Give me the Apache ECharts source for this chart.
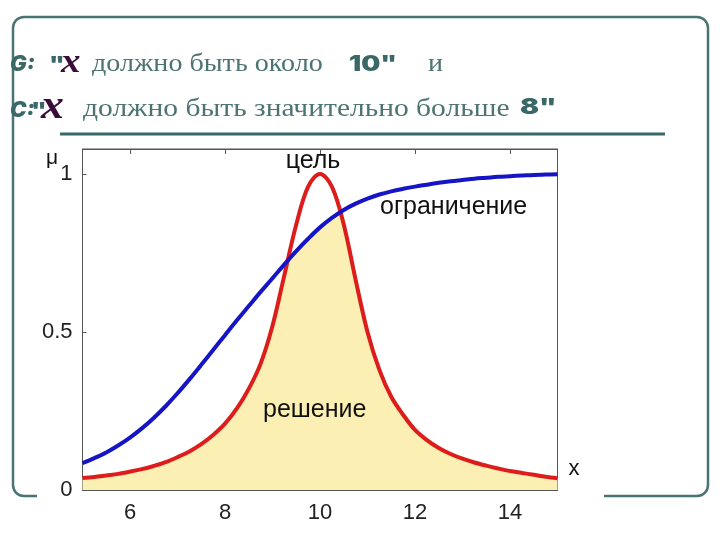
<!DOCTYPE html>
<html>
<head>
<meta charset="utf-8">
<script src="https://cdn.jsdelivr.net/npm/echarts@6/dist/echarts.min.js"></script>
<style>
html,body{margin:0;padding:0;background:#ffffff;}
#main{width:720px;height:540px;}
</style>
</head>
<body>
<div id="main"></div>
<script>
// ---- data ----
const xValues = [5,5.25,5.5,5.75,6,6.25,6.5,6.75,7,7.25,7.5,7.75,8,8.25,8.5,8.75,9,9.25,9.5,9.75,10,
                 10.25,10.5,10.75,11,11.25,11.5,11.75,12,12.25,12.5,12.75,13,13.25,13.5,13.75,14,14.25,14.5,14.75,15];
const goalValues = [0.038,0.041,0.046,0.051,0.058,0.066,0.076,0.088,0.104,0.122,0.145,0.174,0.21,0.258,0.32,0.40,0.52,0.68,0.84,0.96,1.0,
                    0.96,0.84,0.665,0.50,0.38,0.295,0.238,0.19,0.158,0.133,0.114,0.099,0.087,0.077,0.068,0.060,0.054,0.048,0.042,0.037];
const constraintValues = [0.085,0.101,0.119,0.141,0.166,0.195,0.228,0.265,0.306,0.350,0.396,0.443,0.490,0.537,0.582,0.627,0.670,0.714,0.756,0.795,0.831,
                          0.861,0.886,0.906,0.922,0.935,0.945,0.953,0.960,0.966,0.972,0.977,0.981,0.985,0.988,0.991,0.993,0.995,0.997,0.998,0.999];
const xTickLabels = [6,8,10,12,14];
const yTickLabels = [0,0.5,1];
const xMin = 5, xMax = 15, yMin = 0, yMax = 1.079;

// solution = min(goal, constraint), with crossing points inserted
function buildSolution(){
  const out = [];
  for (let i = 0; i < xValues.length; i++){
    out.push([xValues[i], Math.min(goalValues[i], constraintValues[i])]);
    if (i < xValues.length - 1){
      const d0 = goalValues[i] - constraintValues[i];
      const d1 = goalValues[i+1] - constraintValues[i+1];
      if (d0 * d1 < 0){
        const t = d0 / (d0 - d1);
        out.push([xValues[i] + t*(xValues[i+1]-xValues[i]), goalValues[i] + t*(goalValues[i+1]-goalValues[i])]);
      }
    }
  }
  return out;
}
const pair = (xs, ys) => xs.map((x,i)=>[x, ys[i]]);

const teal = '#3a6868';
const serifText = '#4d7373';
const sans = 'Liberation Sans, Arial, sans-serif';
const heavy = 'Inter, Lato, DejaVu Sans, sans-serif';
const serif = 'Liberation Serif, Times New Roman, serif';

const chart = echarts.init(document.getElementById('main'), null, {renderer:'canvas'});

function txt(x, y, text, font, opts, sx){
  return {
    type:'text', x:x, y:y, z:5, scaleX: sx || 1,
    style:Object.assign({text:text, font:font, fill:'#111', verticalAlign:'middle', align:'left'}, opts||{})
  };
}

const option = {
  backgroundColor:'#ffffff',
  animation:false,
  grid:{left:82.5, right:162.5, top:149, bottom:50, show:true, borderColor:'#555', borderWidth:1, backgroundColor:'#ffffff', containLabel:false},
  xAxis:[
    {type:'value', min:xMin, max:xMax, position:'bottom',
     axisLine:{show:true, onZero:false, lineStyle:{color:'#555', width:1}},
     axisTick:{show:true, inside:true, length:5, customValues:xTickLabels, lineStyle:{color:'#555'}},
     axisLabel:{show:true, customValues:xTickLabels, fontSize:22, color:'#222', fontFamily:sans, margin:12},
     splitLine:{show:false}},
    {type:'value', min:xMin, max:xMax, position:'top',
     axisLine:{show:true, onZero:false, lineStyle:{color:'#555', width:1}},
     axisTick:{show:true, inside:true, length:5, customValues:xTickLabels, lineStyle:{color:'#555'}},
     axisLabel:{show:false},
     splitLine:{show:false}}
  ],
  yAxis:[
    {type:'value', min:yMin, max:yMax, position:'left',
     axisLine:{show:true, onZero:false, lineStyle:{color:'#555', width:1}},
     axisTick:{show:true, inside:true, length:4, customValues:yTickLabels, lineStyle:{color:'#555'}},
     axisLabel:{show:true, customValues:yTickLabels, fontSize:22, color:'#222', fontFamily:sans, margin:10},
     splitLine:{show:false}},
    {type:'value', min:yMin, max:yMax, position:'right',
     axisLine:{show:true, onZero:false, lineStyle:{color:'#555', width:1}},
     axisTick:{show:false}, axisLabel:{show:false}, splitLine:{show:false}}
  ],
  series:[
    {name:'решение', type:'line', data:buildSolution(), smooth:0.35, showSymbol:false, z:2,
     lineStyle:{width:0}, areaStyle:{color:'#fcefb3', opacity:1}, silent:true},
    {name:'цель', type:'line', data:pair(xValues, goalValues), smooth:0.35, showSymbol:false, z:3,
     lineStyle:{color:'#dc1d1b', width:4}},
    {name:'ограничение', type:'line', data:pair(xValues, constraintValues), smooth:0.35, showSymbol:false, z:4,
     lineStyle:{color:'#1515c6', width:4}}
  ],
  graphic:{elements:[
    {type:'rect', z:-20, shape:{x:13, y:17, width:695, height:479, r:11}, style:{fill:'#ffffff', stroke:'#4a7373', lineWidth:2.5}},
    {type:'rect', z:-10, shape:{x:37, y:140, width:567, height:400}, style:{fill:'#ffffff'}},
    {type:'line', z:5, shape:{x1:60, y1:134, x2:665, y2:134}, style:{stroke:teal, lineWidth:3}},
    // title line 1
    txt(10, 65, 'G:', 'italic 900 21px ' + heavy, {fill:teal}, 1.05),
    txt(49, 66, '"', '900 21px ' + heavy, {fill:teal}, 1.2),
    txt(61, 63, 'x', 'italic bold 34px ' + serif, {fill:'#3a0c3a'}, 1.15),
    txt(92, 64, 'должно быть около', '26px ' + serif, {fill:serifText}, 1.08),
    txt(349, 65, '10"', '900 21px ' + heavy, {fill:teal}, 1.28),
    txt(428, 64, 'и', '26px ' + serif, {fill:serifText}, 1.08),
    // title line 2
    txt(10, 111, 'C:', 'italic 900 21px ' + heavy, {fill:teal}, 1.05),
    txt(31, 112, '"', '900 21px ' + heavy, {fill:teal}, 1.2),
    txt(41, 108, 'x', 'italic bold 40px ' + serif, {fill:'#3a0c3a'}, 1.15),
    txt(83, 109, 'должно быть значительно больше', '26px ' + serif, {fill:serifText}, 1.135),
    txt(520, 107, '8"', '900 22px ' + heavy, {fill:teal}, 1.28),
    // chart annotations
    txt(52, 158, 'μ', '21px ' + sans, {align:'center'}),
    txt(574, 469, 'x', '22px ' + sans, {align:'center'}),
    txt(313, 161, 'цель', '25px ' + sans, {align:'center'}),
    txt(380, 207, 'ограничение', '25px ' + sans),
    txt(263, 410, 'решение', '25px ' + sans)
  ]}
};
chart.setOption(option);
</script>
</body>
</html>
